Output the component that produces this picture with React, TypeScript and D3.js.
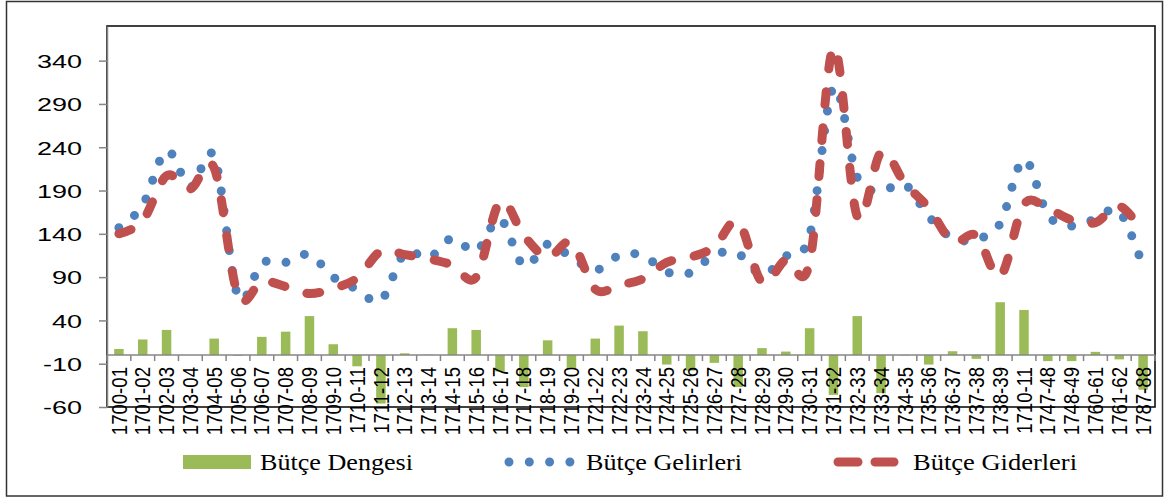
import React, { useEffect, useRef } from 'react';
import * as d3 from 'd3';

// budget years (as printed on the axis)
const periods = [
  '1700-01', '1701-02', '1702-03', '1703-04', '1704-05', '1705-06', '1706-07', '1707-08',
  '1708-09', '1709-10', '1710-11', '1711-12', '1712-13', '1713-14', '1714-15', '1715-16',
  '1716-17', '1717-18', '1718-19', '1719-20', '1721-22', '1722-23', '1723-24', '1724-25',
  '1725-26', '1726-27', '1727-28', '1728-29', '1729-30', '1730-31', '1731-32', '1732-33',
  '1733-34', '1734-35', '1735-36', '1736-37', '1737-38', '1738-39', '1710-11', '1747-48',
  '1748-49', '1760-61', '1761-62', '1787-88',
];

// Bütçe Gelirleri (revenues)
const gelirler = [
  147, 173, 236, 194, 229, 68, 106, 107, 116, 90, 76, 63, 118, 112, 135, 120,
  157, 103, 128, 113, 98, 115, 115, 96, 95, 116, 117, 93, 114, 138, 309, 205,
  190, 197, 160, 135, 134, 152, 226, 162, 149, 157, 166, 102,
];

// Bütçe Giderleri (expenditures)
const giderler = [
  140, 155, 207, 192, 216, 69, 85, 79, 71, 77, 89, 120, 116, 111, 104, 90,
  177, 138, 113, 130, 76, 81, 88, 107, 113, 125, 154, 84, 110, 107, 355, 160,
  234, 198, 170, 131, 138, 91, 174, 169, 156, 153, 172, 142,
];

// Bütçe Dengesi (balance)
const denge = [
  7, 18, 29, 0, 19, -1, 21, 27, 45, 12.5, -13, -56, 2, 0.5, 31, 29,
  -19, -37, 17, -16, 19, 34, 27.5, -11, -18, -9, -37, 8, 4, 31, -46, 45,
  -44, -0.5, -11, 4.4, -4.4, 61, 52, -7, -7, 3.7, -5, -40,
];

const yTicks = [-60, -10, 40, 90, 140, 190, 240, 290, 340];

const legendItems = ['Bütçe Dengesi', 'Bütçe Gelirleri', 'Bütçe Giderleri'];

const WIDTH = 1169;
const HEIGHT = 497;

const App = () => {
  const svgRef = useRef<SVGSVGElement>(null);

  useEffect(() => {
    const svg = d3.select(svgRef.current);
    svg.selectAll('*').remove();

    const plot = { left: 107, right: 1155, top: 26, bottom: 407 };
    const sans = '"Liberation Sans", Arial, sans-serif';
    const serif = '"Liberation Serif", "Times New Roman", serif';
    const gray = '#868686';

    const x = d3.scaleBand<number>()
      .domain(d3.range(periods.length))
      .range([plot.left, plot.right]);
    const cx = (i: number) => (x(i) as number) + x.bandwidth() / 2;

    const y = d3.scaleLinear()
      .domain([-60, 380])
      .range([plot.bottom, plot.top]);

    svg.append('rect')
      .attr('width', WIDTH).attr('height', HEIGHT)
      .attr('fill', '#fff');

    // outer chart border
    svg.append('rect')
      .attr('x', 6.5).attr('y', 1.5)
      .attr('width', 1156).attr('height', 494.5)
      .attr('fill', 'none')
      .attr('stroke', '#333')
      .attr('stroke-width', 1.5);

    // plot area border
    svg.append('rect')
      .attr('x', plot.left).attr('y', plot.top)
      .attr('width', plot.right - plot.left)
      .attr('height', plot.bottom - plot.top)
      .attr('fill', 'none')
      .attr('stroke', '#111')
      .attr('stroke-width', 1.6);

    // balance bars
    const barW = 9.5;
    svg.append('g')
      .selectAll('rect')
      .data(denge)
      .join('rect')
      .attr('x', (d, i) => cx(i) - barW / 2)
      .attr('y', d => y(Math.max(0, d)))
      .attr('width', barW)
      .attr('height', d => Math.abs(y(d) - y(0)))
      .attr('fill', '#9BBB59');

    // y axis
    const yAxis = svg.append('g')
      .attr('transform', `translate(${plot.left},0)`)
      .call(d3.axisLeft(y).tickValues(yTicks).tickSize(8).tickSizeOuter(0).tickFormat(d => String(d)));
    yAxis.select('.domain').attr('stroke', gray).attr('stroke-width', 1.5);
    yAxis.selectAll('.tick line').attr('stroke', gray).attr('stroke-width', 1.5);
    yAxis.selectAll('.tick text')
      .attr('x', -17.6)
      .attr('dy', '0.36em')
      .attr('transform', 'scale(1.42,1)')
      .style('font-family', sans)
      .style('font-size', '19px')
      .style('fill', '#000');

    // x axis at zero
    const y0 = y(0);
    svg.append('line')
      .attr('x1', plot.left).attr('x2', plot.right)
      .attr('y1', y0).attr('y2', y0)
      .attr('stroke', gray)
      .attr('stroke-width', 1.5);

    svg.append('g')
      .selectAll('line')
      .data(d3.range(periods.length + 1))
      .join('line')
      .attr('x1', i => plot.left + i * x.step())
      .attr('x2', i => plot.left + i * x.step())
      .attr('y1', y0)
      .attr('y2', y0 + 6)
      .attr('stroke', gray)
      .attr('stroke-width', 1.5);

    // category labels, vertical
    svg.append('g')
      .selectAll('text')
      .data(periods)
      .join('text')
      .attr('transform', (d, i) => `translate(${cx(i)},${y0 + 12}) rotate(-90) scale(1.05,1.2)`)
      .attr('dy', '0.36em')
      .attr('text-anchor', 'end')
      .style('font-family', sans)
      .style('font-size', '17.7px')
      .style('fill', '#000')
      .text(d => d);

    const line = d3.line<number>()
      .x((d, i) => cx(i))
      .y(d => y(d))
      .curve(d3.curveCardinal.tension(0));

    // revenues: round dotted line
    svg.append('path')
      .datum(gelirler)
      .attr('d', line)
      .attr('fill', 'none')
      .attr('stroke', '#4F81BD')
      .attr('stroke-width', 9)
      .attr('stroke-linecap', 'round')
      .attr('stroke-dasharray', '0 20');

    // expenditures: long dashes
    svg.append('path')
      .datum(giderler)
      .attr('d', line)
      .attr('fill', 'none')
      .attr('stroke', '#C0504D')
      .attr('stroke-width', 9)
      .attr('stroke-linecap', 'round')
      .attr('stroke-dasharray', '13 23');

    // legend
    const ly = 462;
    const legend = svg.append('g');
    legend.append('rect')
      .attr('x', 183).attr('y', 455)
      .attr('width', 68).attr('height', 14)
      .attr('fill', '#9BBB59');
    legend.append('line')
      .attr('x1', 509).attr('x2', 571)
      .attr('y1', ly).attr('y2', ly)
      .attr('stroke', '#4F81BD')
      .attr('stroke-width', 9)
      .attr('stroke-linecap', 'round')
      .attr('stroke-dasharray', '0 20.3');
    legend.append('line')
      .attr('x1', 838).attr('x2', 894)
      .attr('y1', ly).attr('y2', ly)
      .attr('stroke', '#C0504D')
      .attr('stroke-width', 9)
      .attr('stroke-linecap', 'round')
      .attr('stroke-dasharray', '20 17');

    const textPos = [
      { x: 260, w: 153 },
      { x: 586, w: 156 },
      { x: 913, w: 164 },
    ];
    legend.selectAll('text')
      .data(legendItems)
      .join('text')
      .attr('x', (d, i) => textPos[i].x)
      .attr('y', 470)
      .attr('textLength', (d, i) => textPos[i].w)
      .attr('lengthAdjust', 'spacingAndGlyphs')
      .style('font-family', serif)
      .style('font-size', '24px')
      .style('fill', '#000')
      .text(d => d);
  }, []);

  return (
    <svg
      ref={svgRef}
      width={WIDTH}
      height={HEIGHT}
      style={{ position: 'absolute', left: 0, top: 0, display: 'block' }}
    />
  );
};

export default App;
